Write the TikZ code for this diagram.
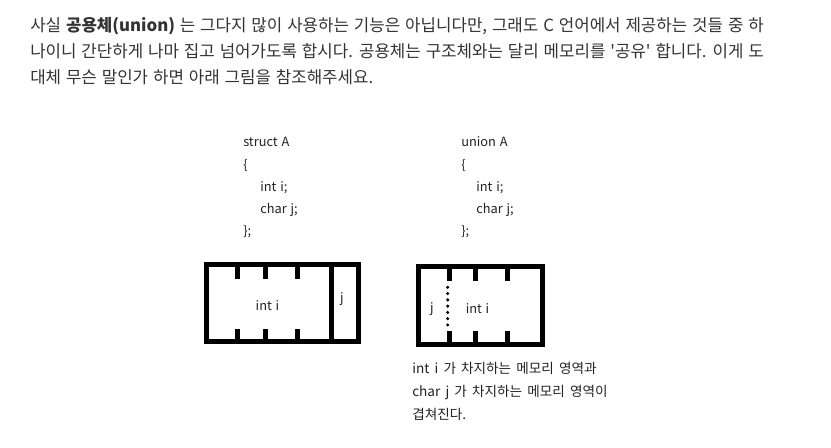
\documentclass[tikz,border=0pt]{standalone}
\usepackage{fontspec}
\setmainfont{Noto Sans CJK KR}[Ligatures=TeXOff]
\definecolor{headc}{HTML}{333333}
\definecolor{codec}{HTML}{222222}
\newcommand\myheadfont{\fontsize{12.6pt}{14pt}\selectfont\spaceskip=0.29em\relax}
\newcommand\mycodefont{\fontsize{9.6pt}{11pt}\selectfont\spaceskip=0.3em\relax}
\newcommand\mynotefont{\fontsize{10.2pt}{11pt}\selectfont\spaceskip=0.38em\relax}
\tikzset{
  x=0.75pt, y=-0.75pt,
  head/.style={anchor=base west, inner sep=0pt, text=headc, font={\myheadfont}},
  code/.style={anchor=base west, inner sep=0pt, text=codec, font={\mycodefont}},
  note/.style={anchor=base west, inner sep=0pt, text=codec, font={\mynotefont}},
  cell/.style={anchor=base, inner sep=0pt, text=codec, font={\mycodefont}},
  frame/.style={draw=black, line width=3.75pt, line join=miter},
  tick/.style={draw=black, line width=3.75pt},
}
\begin{document}
\begin{tikzpicture}
\useasboundingbox (0,0) rectangle (831,447);
% header text
\node[head] (h1) at (30,31) {사실 \textbf{공용체(union)} 는 그다지 많이 사용하는 기능은 아닙니다만, 그래도 C 언어에서 제공하는 것들 중 하};
\node[head] (h2) at (30,57) {나이니 간단하게 나마 집고 넘어가도록 합시다. 공용체는 구조체와는 달리 메모리를 '공유' 합니다. 이게 도};
\node[head] (h3) at (30,83) {대체 무슨 말인가 하면 아래 그림을 참조해주세요.};
% struct code
\node[code] (s1) at (243,146.5) {struct A};
\node[code] (s2) at (243,169) {\{};
\node[code] (s3) at (260,191) {int i;};
\node[code] (s4) at (260,213) {char j;};
\node[code] (s5) at (243,235) {\};};
% union code
\node[code] (u1) at (461,146.5) {union A};
\node[code] (u2) at (461,169) {\{};
\node[code] (u3) at (476,191) {int i;};
\node[code] (u4) at (476,213) {char j;};
\node[code] (u5) at (461,235) {\};};
% struct memory box
\draw[frame] (206.5,264.5) rectangle (358.5,341.5);
\draw[tick] (331.5,264.5) -- (331.5,341.5);
\foreach \xx in {237.5,265.5,297.5}{
  \draw[tick] (\xx,264.5) -- (\xx,279);
  \draw[tick] (\xx,329) -- (\xx,341.5);
}
\node[cell] (si) at (267.5,310) {int i};
\node[cell] (sj) at (342,302) {j};
% union memory box
\draw[frame] (418,266.5) rectangle (542.5,344);
\foreach \xx in {449.5,475.5,507.5}{
  \draw[tick] (\xx,266.5) -- (\xx,281);
  \draw[tick] (\xx,331) -- (\xx,344);
}
\foreach \k in {0,...,6}{
  \fill[black] (447.7,287.3+6.28*\k) circle (1.7);
}
\node[cell] (ui) at (477.5,313) {int i};
\node[cell] (uj) at (432,312) {j};
% note
\node[note] (n1) at (412,373) {int i 가 차지하는 메모리 영역과};
\node[note] (n2) at (412,396) {char j 가 차지하는 메모리 영역이};
\node[note] (n3) at (412,419) {겹쳐진다.};
\end{tikzpicture}
\end{document}
